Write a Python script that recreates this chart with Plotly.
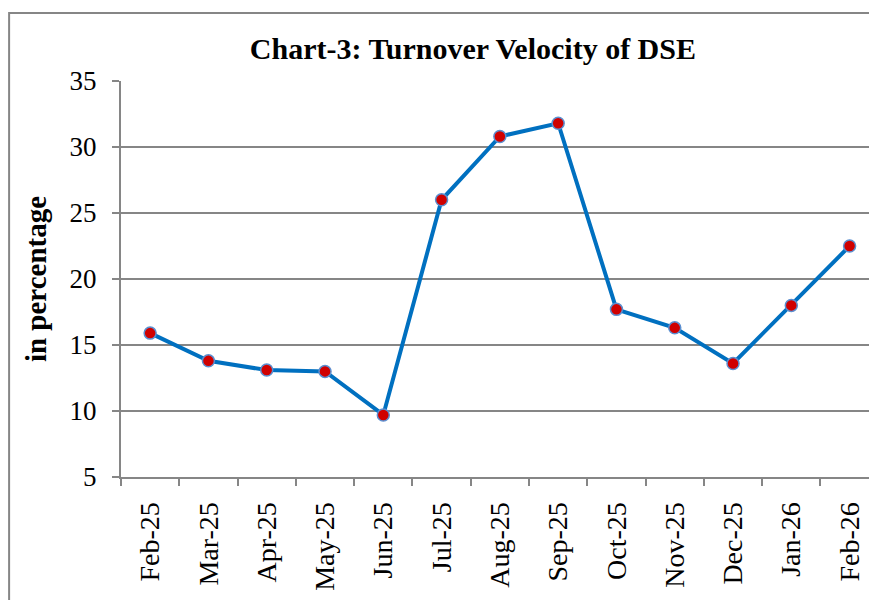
import plotly.graph_objects as go

months = ["Feb-25", "Mar-25", "Apr-25", "May-25", "Jun-25", "Jul-25", "Aug-25",
          "Sep-25", "Oct-25", "Nov-25", "Dec-25", "Jan-26", "Feb-26"]
velocity = [15.9, 13.8, 13.1, 13.0, 9.7, 26.0, 30.8, 31.8, 17.7, 16.3, 13.6, 18.0, 22.5]
y_ticks = [5, 10, 15, 20, 25, 30, 35]

FONT = "Liberation Serif, Times New Roman, serif"
GRID = "#868686"

fig = go.Figure()
fig.add_trace(go.Scatter(
    x=months, y=velocity, mode="lines+markers",
    line=dict(color="#0070C0", width=4),
    marker=dict(color="#D00000", size=12, line=dict(color="#5B8FD0", width=1.5)),
    showlegend=False,
))

fig.update_layout(
    width=869, height=592,
    margin=dict(l=113, r=0, t=73, b=123),
    paper_bgcolor="white", plot_bgcolor="white",
    title=dict(text="<b>Chart-3: Turnover Velocity of DSE</b>",
               x=0.535, xanchor="center", y=0.932, yanchor="middle",
               font=dict(family=FONT, size=30, color="black")),
    font=dict(family=FONT, color="black"),
)

fig.update_xaxes(
    type="category", range=[-0.5, 12.47], automargin=False,
    tickangle=-90, tickfont=dict(family=FONT, size=28, color="black"),
    ticks="outside", ticklen=7, tickcolor=GRID, tickwidth=2,
    tickson="boundaries", ticklabelstandoff=12,
    showline=True, linecolor=GRID, linewidth=2,
    showgrid=False, zeroline=False,
)
fig.update_yaxes(
    range=[5, 35], tickvals=y_ticks, automargin=False,
    tickfont=dict(family=FONT, size=27, color="black"),
    ticks="outside", ticklen=7, tickcolor=GRID, tickwidth=2,
    ticklabelstandoff=10,
    showline=True, linecolor=GRID, linewidth=2,
    showgrid=True, gridcolor=GRID, gridwidth=2, zeroline=False,
    title=dict(text="<b>in percentage</b>", standoff=14,
               font=dict(family=FONT, size=29, color="black")),
)

# outer chart frame (partially cut off at right and bottom)
fig.add_shape(type="rect", xref="paper", yref="paper",
              x0=-0.148, x1=1.1, y0=-0.6, y1=1.1717,
              line=dict(color=GRID, width=2), layer="below")

fig.write_html("out.html")
